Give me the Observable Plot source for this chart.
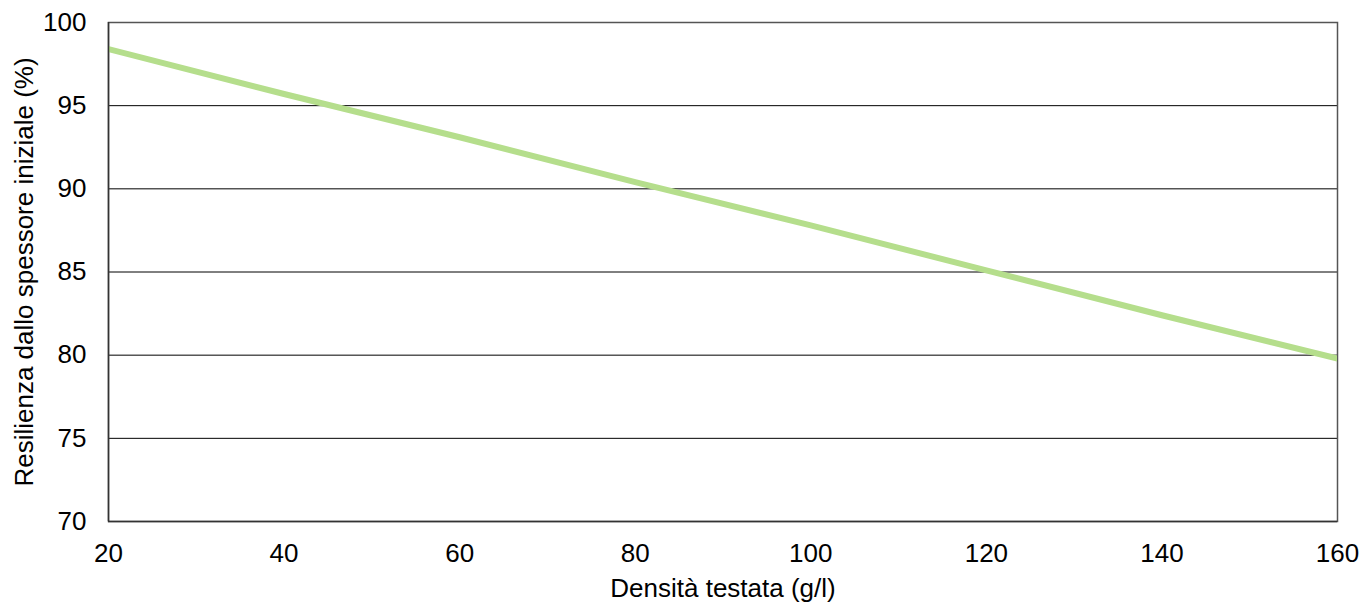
<!DOCTYPE html>
<html>
<head>
<meta charset="utf-8">
<script src="https://cdn.jsdelivr.net/npm/d3@7"></script>
<script src="https://cdn.jsdelivr.net/npm/@observablehq/plot@0.6"></script>
<style>
  html, body { margin: 0; padding: 0; background: #fff; }
  svg { display: block; }
</style>
</head>
<body>
<div id="chart"></div>
<script>
const density = [20, 40, 60, 80, 100, 120, 140, 160];
const resilience = [98.4, 95.7, 93.1, 90.4, 87.8, 85.1, 82.4, 79.8];
const xTicks = [20, 40, 60, 80, 100, 120, 140, 160];
const yTicks = [70, 75, 80, 85, 90, 95, 100];

const data = density.map((d, i) => ({x: d, y: resilience[i]}));

const chart = Plot.plot({
  width: 1361,
  height: 603,
  marginLeft: 108,
  marginRight: 24,
  marginTop: 22,
  marginBottom: 82,
  style: {fontFamily: "Liberation Sans, Arial, sans-serif", fontSize: "26px", color: "#000", background: "#fff", overflow: "visible"},
  x: {domain: [20, 160], ticks: xTicks, tickSize: 0, tickPadding: 22, label: "Densità testata (g/l)", labelAnchor: "center", labelOffset: 75, labelArrow: "none"},
  y: {domain: [70, 100], ticks: yTicks, tickSize: 0, tickPadding: 22, label: "Resilienza dallo spessore iniziale (%)", labelAnchor: "center", labelOffset: 94, labelArrow: "none"},
  marks: [
    Plot.ruleY(yTicks, {stroke: "#000", strokeWidth: 1}),
    Plot.frame({stroke: "#555", strokeWidth: 1.5}),
    Plot.line(data, {x: "x", y: "y", stroke: "#b5de8c", strokeWidth: 6, clip: true}),
    Plot.ruleX([20], {stroke: "#333", strokeWidth: 1.5}),
    Plot.ruleY([70], {stroke: "#333", strokeWidth: 1.5})
  ]
});
chart.querySelectorAll("text").forEach(t => {
  t.setAttribute("fill", "#000");
  t.textContent = t.textContent.replace(/\s*[→↑]\s*$/, "").replace(/^\s*[←↓]\s*/, "");
});
document.getElementById("chart").appendChild(chart);
</script>
</body>
</html>
